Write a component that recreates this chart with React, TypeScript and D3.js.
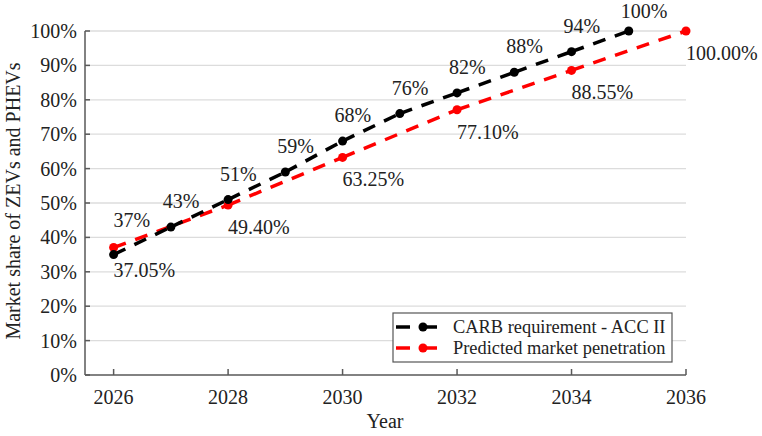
import React from "react";
import * as d3 from "d3";

const carbYears = [2026, 2027, 2028, 2029, 2030, 2031, 2032, 2033, 2034, 2035];
const carbValues = [0.35, 0.43, 0.51, 0.59, 0.68, 0.76, 0.82, 0.88, 0.94, 1.0];
const carbLabels = ["37%", "43%", "51%", "59%", "68%", "76%", "82%", "88%", "94%", "100%"];

const predYears = [2026, 2028, 2030, 2032, 2034, 2036];
const predValues = [0.3705, 0.494, 0.6325, 0.771, 0.8855, 1.0];
const predLabels = ["37.05%", "49.40%", "63.25%", "77.10%", "88.55%", "100.00%"];

const xTicks = [2026, 2028, 2030, 2032, 2034, 2036];
const yTicks = [0, 0.1, 0.2, 0.3, 0.4, 0.5, 0.6, 0.7, 0.8, 0.9, 1.0];

const seriesNames = ["CARB requirement - ACC II", "Predicted market penetration"];
const seriesColors = ["#000000", "#ff0000"];

const W = 762;
const H = 436;
const FONT = "Liberation Serif, Times New Roman, Times, serif";
const ts = { fontFamily: FONT };

export default function App() {
  const x = d3.scaleLinear().domain([2025.5, 2036]).range([85, 686]);
  const y = d3.scaleLinear().domain([0, 1]).range([375, 31]);
  const pct = d3.format(".0%");
  const dash = "13,10";

  const segs = (xs: number[], vs: number[]) =>
    xs.slice(1).map((_, i) => [
      [x(xs[i]), y(vs[i])],
      [x(xs[i + 1]), y(vs[i + 1])],
    ] as [number, number][]);
  const line = d3.line<[number, number]>();

  // nudges for the first CARB label only
  const carbLabelPos = (i: number) => {
    const px = x(carbYears[i]);
    const py = y(carbValues[i]);
    if (i === 0) return [px, py - 28];
    return [px - 8, Math.max(py - 19, 18)];
  };

  return (
    <svg width={W} height={H} style={{ display: "block", position: "absolute", left: 0, top: 0, background: "#fff", fontFamily: FONT }}>
      {/* grid */}
      {yTicks.slice(1).map((t) => (
        <line key={"g" + t} x1={x.range()[0]} x2={x.range()[1]} y1={y(t)} y2={y(t)} stroke="#dcdcdc" strokeWidth={1.3} />
      ))}
      {/* axes */}
      <line x1={85} x2={85} y1={y(1)} y2={y(0)} stroke="#595959" strokeWidth={1.5} />
      <line x1={85} x2={686} y1={y(0)} y2={y(0)} stroke="#595959" strokeWidth={1.5} />
      {yTicks.map((t) => (
        <g key={"y" + t}>
          <line x1={85} x2={90} y1={y(t)} y2={y(t)} stroke="#595959" strokeWidth={1.5} />
          <text x={77} y={y(t) + 7} textAnchor="end" fontSize={20} fill="#222" style={ts}>{pct(t)}</text>
        </g>
      ))}
      {xTicks.map((t) => (
        <g key={"x" + t}>
          <line x1={x(t)} x2={x(t)} y1={y(0)} y2={y(0) - 6} stroke="#595959" strokeWidth={1.5} />
          <text x={x(t)} y={404} textAnchor="middle" fontSize={20} fill="#222" style={ts}>{t}</text>
        </g>
      ))}
      <text x={385} y={428} textAnchor="middle" fontSize={20} fill="#222" style={ts}>Year</text>
      <text transform={`translate(20,201) rotate(-90)`} textAnchor="middle" fontSize={20} fill="#222" style={ts}>
        Market share of ZEVs and PHEVs
      </text>

      {/* predicted */}
      {segs(predYears, predValues).map((s, i) => (
        <path key={"ps" + i} d={line(s) || ""} fill="none" stroke={seriesColors[1]} strokeWidth={3.5} strokeDasharray={dash} />
      ))}
      {/* CARB */}
      {segs(carbYears, carbValues).map((s, i) => (
        <path key={"cs" + i} d={line(s) || ""} fill="none" stroke={seriesColors[0]} strokeWidth={3.5} strokeDasharray={dash} />
      ))}
      {predYears.map((yr, i) => (
        <circle key={"pc" + i} cx={x(yr)} cy={y(predValues[i])} r={4.5} fill={seriesColors[1]} />
      ))}
      {carbYears.map((yr, i) => (
        <circle key={"cc" + i} cx={x(yr)} cy={y(carbValues[i])} r={4.5} fill={seriesColors[0]} />
      ))}

      {/* labels */}
      {carbLabels.map((l, i) => {
        const [lx, ly] = carbLabelPos(i);
        return (
          <text key={"cl" + i} x={lx} y={ly} fontSize={20} fill="#222" style={ts}>{l}</text>
        );
      })}
      {predLabels.map((l, i) => (
        <text key={"pl" + i} x={x(predYears[i])} y={y(predValues[i]) + 29} fontSize={20} fill="#222" style={ts}>{l}</text>
      ))}

      {/* legend */}
      <rect x={393} y={313} width={279} height={49} fill="#fff" stroke="#555" strokeWidth={1.2} />
      {seriesNames.map((n, i) => {
        const ly = 327 + i * 21;
        return (
          <g key={"lg" + i}>
            <line x1={396} x2={410} y1={ly} y2={ly} stroke={seriesColors[i]} strokeWidth={3.5} />
            <line x1={423} x2={437} y1={ly} y2={ly} stroke={seriesColors[i]} strokeWidth={3.5} />
            <circle cx={423} cy={ly} r={4.5} fill={seriesColors[i]} />
            <text x={453} y={ly + 6} fontSize={18.4} fill="#222" style={ts}>{n}</text>
          </g>
        );
      })}
    </svg>
  );
}
